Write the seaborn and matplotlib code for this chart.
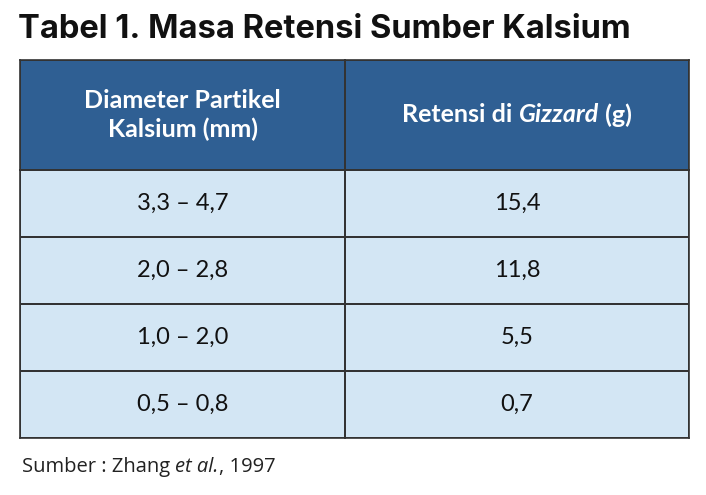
import numpy as np
import seaborn as sns
import matplotlib.pyplot as plt
from matplotlib import colors

sns.set_theme(style="white")
plt.rcParams['font.family'] = ['Lato', 'DejaVu Sans']

title = 'Tabel 1. Masa Retensi Sumber Kalsium'
diameter = ['3,3 – 4,7', '2,0 – 2,8', '1,0 – 2,0', '0,5 – 0,8']
retensi = ['15,4', '11,8', '5,5', '0,7']

dark = '#2F5F93'
light = '#D3E6F4'
edge = '#333333'

fig = plt.figure(figsize=(7.06, 4.95), dpi=100)
fig.patch.set_facecolor('white')
fig.canvas.draw()
r = fig.canvas.get_renderer()

cols = [(20, 345, diameter), (345, 689, retensi)]
headers = []
for x0, x1, vals in cols:
    ax = fig.add_axes([x0/706, 1-438/495, (x1-x0)/706, 268/495])
    sns.heatmap(np.zeros((4, 1)), ax=ax, cmap=colors.ListedColormap([light]), cbar=False,
                annot=np.array(vals).reshape(4, 1), fmt='', linewidths=1.2, linecolor=edge,
                annot_kws={'fontsize': 17, 'color': '#111111'})
    hx = fig.add_axes([x0/706, 1-170/495, (x1-x0)/706, 110/495])
    sns.heatmap(np.zeros((1, 1)), ax=hx, cmap=colors.ListedColormap([dark]), cbar=False,
                linewidths=1.2, linecolor=edge)
    for a in (ax, hx):
        a.set_xticks([]); a.set_yticks([])
        for s in a.spines.values():
            s.set_visible(True); s.set_color(edge); s.set_linewidth(1.2)
    headers.append(hx)

headers[0].text(0.5, 0.5, 'Diameter Partikel\nKalsium (mm)', ha='center', va='center',
                color='white', fontsize=18, fontweight='bold', linespacing=1.25)

# header right with italic part
hx = headers[1]
parts = [('Retensi di ', 'normal'), ('Gizzard', 'italic'), (' (g)', 'normal')]
texts = []
for s, st in parts:
    texts.append(hx.text(0, 0.5, s, ha='left', va='center', color='white',
                         fontsize=18, fontweight='bold', fontstyle=st))
widths = [t.get_window_extent(r).width for t in texts]
inv = hx.transData.inverted()
px0 = hx.transData.transform((0.5, 0.5))[0] - sum(widths) / 2
for t, w in zip(texts, widths):
    t.set_x(inv.transform((px0, 0))[0])
    px0 += w

# title
fig.text(18/706, 1-29/495, title, ha='left', va='center', fontsize=23.5,
         fontweight='bold', color='#111111', family=['Inter', 'DejaVu Sans'])

# source
src = [('Sumber : Zhang ', 'normal'), ('et al.', 'italic'), (', 1997', 'normal')]
x = 22
for s, st in src:
    t = fig.text(x/706, 1-467/495, s, ha='left', va='center', fontsize=14.5,
                 fontstyle=st, color='#222222', family=['Open Sans', 'DejaVu Sans'])
    x += t.get_window_extent(r).width

fig.savefig('out.png', dpi=100)
